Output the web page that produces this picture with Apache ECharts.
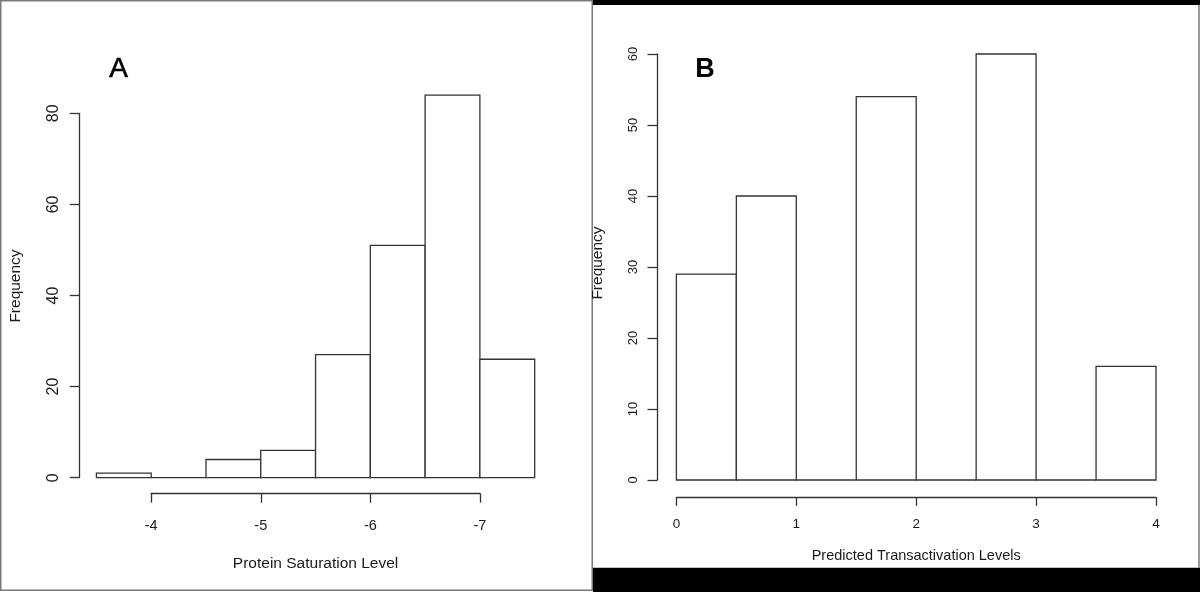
<!DOCTYPE html>
<html>
<head>
    <meta charset="utf-8">
    <title>Histograms A / B</title>
    <script src="https://cdn.jsdelivr.net/npm/echarts@6/dist/echarts.min.js"></script>
    <style>
        html, body { margin: 0; padding: 0; background: #fff; }
        #main { width: 1200px; height: 592px; }
    </style>
</head>
<body>
    <div id="main"></div>

    <script type="text/javascript">

        // panel A: bin edges (reversed axis) and counts
        var edgesA = [-3.5, -4, -4.5, -5, -5.5, -6, -6.5, -7, -7.5];
        var countsA = [1, 0, 4, 6, 27, 51, 84, 26];
        // panel B
        var edgesB = [0, 0.5, 1, 1.5, 2, 2.5, 3, 3.5, 4];
        var countsB = [29, 40, 0, 54, 0, 60, 0, 16];

        function binData(edges, counts) {
            var out = [];
            for (var i = 0; i < counts.length; i++) {
                out.push([edges[i], edges[i + 1], counts[i]]);
            }
            return out;
        }

        // draws one histogram bin as a rect through the axis scales
        function renderBin(params, api) {
            var p0 = api.coord([api.value(0), 0]);
            var p1 = api.coord([api.value(1), api.value(2)]);
            return {
                type: 'rect',
                shape: {
                    x: Math.min(p0[0], p1[0]),
                    y: p1[1],
                    width: Math.abs(p1[0] - p0[0]),
                    height: p0[1] - p1[1]
                },
                style: { fill: '#fff', stroke: '#333', lineWidth: 1.3 }
            };
        }

        var font = "'Liberation Sans', Arial, sans-serif";
        var lineStyle = { color: '#333', width: 1.3 };

        var myChart = echarts.init(document.getElementById('main'));

        myChart.setOption({
            animation: false,
            backgroundColor: '#fff',
            grid: [
                { left: 151.2, top: 113.3, width: 328.7, height: 364.4 },
                { left: 676.4, top: 54, width: 479.6, height: 426 }
            ],
            xAxis: [
                {
                    gridIndex: 0, type: 'value', min: -7, max: -4, interval: 1, inverse: true,
                    offset: 15.6,
                    name: 'Protein Saturation Level', nameLocation: 'middle', nameGap: 62,
                    nameTextStyle: { fontFamily: font, fontSize: 15.5, color: '#1a1a1a' },
                    axisLine: { onZero: false, lineStyle: lineStyle },
                    axisTick: { length: 9.4, lineStyle: lineStyle },
                    axisLabel: { fontFamily: font, fontSize: 14.5, color: '#1a1a1a', margin: 25 },
                    splitLine: { show: false }
                },
                {
                    gridIndex: 1, type: 'value', min: 0, max: 4, interval: 1,
                    offset: 17.3,
                    name: 'Predicted Transactivation Levels', nameLocation: 'middle', nameGap: 51,
                    nameTextStyle: { fontFamily: font, fontSize: 14.5, color: '#1a1a1a' },
                    axisLine: { onZero: false, lineStyle: lineStyle },
                    axisTick: { length: 8.5, lineStyle: lineStyle },
                    axisLabel: { fontFamily: font, fontSize: 13.5, color: '#1a1a1a', margin: 20 },
                    splitLine: { show: false }
                }
            ],
            yAxis: [
                {
                    gridIndex: 0, type: 'value', min: 0, max: 80, interval: 20,
                    offset: 72,
                    axisLine: { show: true, onZero: false, lineStyle: lineStyle },
                    axisTick: { show: true, length: 9.5, lineStyle: lineStyle },
                    axisLabel: { fontFamily: font, fontSize: 16, color: '#1a1a1a', rotate: 90, margin: 18 },
                    splitLine: { show: false }
                },
                {
                    gridIndex: 1, type: 'value', min: 0, max: 60, interval: 10,
                    offset: 19.4,
                    axisLine: { show: true, onZero: false, lineStyle: lineStyle },
                    axisTick: { show: true, length: 9.5, lineStyle: lineStyle },
                    axisLabel: { fontFamily: font, fontSize: 13, color: '#1a1a1a', rotate: 90, margin: 17 },
                    splitLine: { show: false }
                }
            ],
            series: [
                {
                    type: 'custom', xAxisIndex: 0, yAxisIndex: 0, clip: false,
                    renderItem: renderBin, data: binData(edgesA, countsA)
                },
                {
                    type: 'custom', xAxisIndex: 1, yAxisIndex: 1, clip: false,
                    renderItem: renderBin, data: binData(edgesB, countsB)
                }
            ],
            graphic: [
                // panel frames
                { type: 'rect', shape: { x: 0.75, y: 0.75, width: 591.5, height: 589.5 },
                  style: { fill: 'none', stroke: '#7a7a7a', lineWidth: 1.5 }, silent: true },
                { type: 'rect', shape: { x: 593, y: 0, width: 607, height: 5 }, style: { fill: '#000' }, silent: true },
                { type: 'rect', shape: { x: 593, y: 567.7, width: 607, height: 24.3 }, style: { fill: '#000' }, silent: true },
                { type: 'line', shape: { x1: 1199, y1: 5, x2: 1199, y2: 568 },
                  style: { stroke: '#7a7a7a', lineWidth: 1.5 }, silent: true },
                // panel letters
                { type: 'text', x: 118.7, y: 69, style: { text: 'A', font: '28px ' + font, fill: '#000',
                  stroke: '#000', lineWidth: 0.6, textAlign: 'center', textVerticalAlign: 'middle' } },
                { type: 'text', x: 705, y: 70, style: { text: 'B', font: 'bold 27px ' + font, fill: '#000',
                  textAlign: 'center', textVerticalAlign: 'middle' } },
                // y axis titles
                { type: 'text', x: 15.5, y: 286, rotation: Math.PI / 2,
                  style: { text: 'Frequency', font: '15.5px ' + font, fill: '#1a1a1a',
                  textAlign: 'center', textVerticalAlign: 'middle' } },
                { type: 'text', x: 598, y: 263, rotation: Math.PI / 2,
                  style: { text: 'Frequency', font: '15.5px ' + font, fill: '#1a1a1a',
                  textAlign: 'center', textVerticalAlign: 'middle' } }
            ]
        });

    </script>
</body>
</html>
